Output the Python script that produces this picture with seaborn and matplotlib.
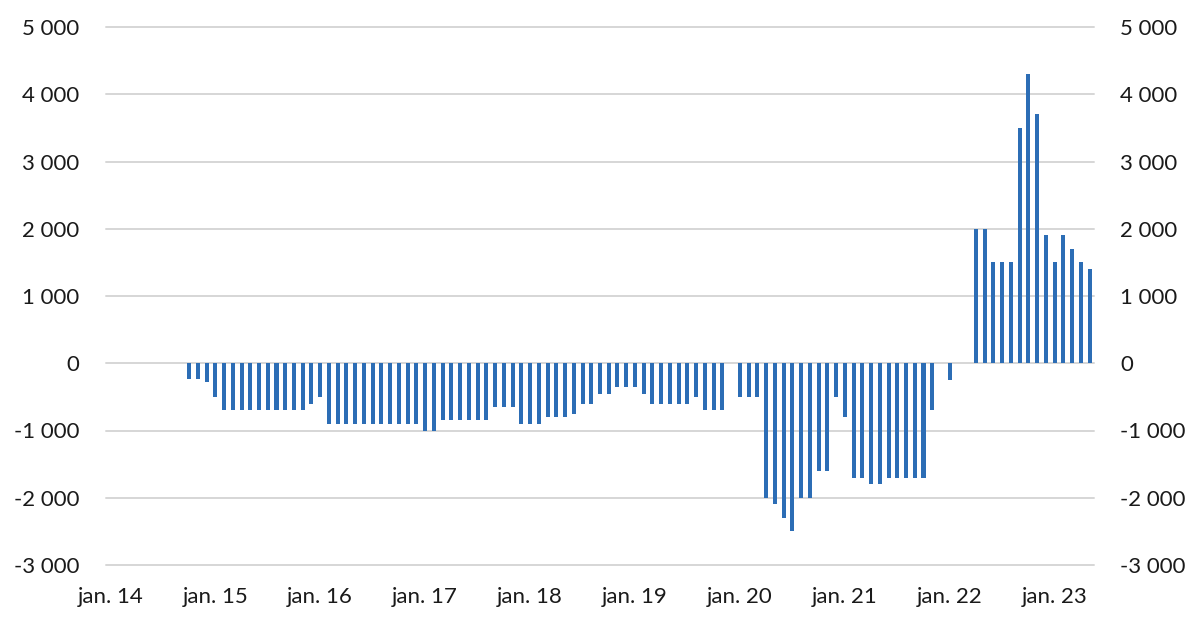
import numpy as np
import pandas as pd
import matplotlib
matplotlib.use("Agg")
import matplotlib.pyplot as plt
import seaborn as sns

# monthly values, jan 2014 .. may 2023
values = [
    0, 0, 0, 0, 0, 0, 0, 0, 0,                     # jan-sep 14
    -230, -230, -280,                               # oct-dec 14
    -500, -700, -700, -700, -700, -700, -700, -700, -700, -700, -700, -600,   # 2015
    -500, -900, -900, -900, -900, -900, -900, -900, -900, -900, -900, -900,   # 2016
    -1000, -1000, -850, -850, -850, -850, -850, -850, -650, -650, -650, -900,  # 2017
    -900, -900, -800, -800, -800, -750, -600, -600, -450, -450, -350, -350,    # 2018
    -350, -450, -600, -600, -600, -600, -600, -500, -700, -700, -700, 0,       # 2019
    -500, -500, -500, -2000, -2100, -2300, -2500, -2000, -2000, -1600, -1600, -500,  # 2020
    -800, -1700, -1700, -1800, -1800, -1700, -1700, -1700, -1700, -1700, -700, 0,    # 2021
    -250, 0, 0, 2000, 2000, 1500, 1500, 1500, 3500, 4300, 3700, 1900,               # 2022
    1500, 1900, 1700, 1500, 1400,                                                   # 2023
]
months = pd.date_range("2014-01-01", periods=len(values), freq="MS").strftime("%Y-%m")

xtick_labels = ["jan. 14", "jan. 15", "jan. 16", "jan. 17", "jan. 18",
                "jan. 19", "jan. 20", "jan. 21", "jan. 22", "jan. 23"]
ytick_values = [-3000, -2000, -1000, 0, 1000, 2000, 3000, 4000, 5000]
ytick_labels = ["-3 000", "-2 000", "-1 000", "0", "1 000", "2 000", "3 000", "4 000", "5 000"]

df = pd.DataFrame({"month": months, "value": values})

sns.set_theme(style="white")
plt.rcParams["font.family"] = ["Lato", "DejaVu Sans"]

fig = plt.figure(figsize=(11.99, 6.23), dpi=100)
ax = fig.add_axes([106 / 1199, 58 / 623, 988 / 1199, 538 / 623])

sns.barplot(data=df, x="month", y="value", color="#2C6DB5", width=0.46,
            saturation=1, ax=ax, zorder=3, linewidth=0)

ax.set_xlim(-0.5, len(values) - 0.5)
ax.set_ylim(-3000, 5000)
ax.set_xticks(range(0, len(values), 12))
ax.set_xticklabels(xtick_labels)
ax.set_yticks(ytick_values)
ax.set_yticklabels(ytick_labels)
ax.set_xlabel("")
ax.set_ylabel("")

ax.grid(axis="y", color="#d6d6d6", linewidth=1.4, zorder=0)
ax.grid(axis="x", visible=False)
for gl in ax.get_ygridlines():
    gl.set_clip_on(False)

ax.tick_params(axis="y", which="both", left=False, right=False, length=0,
               labelleft=True, labelright=True, pad=19,
               labelsize=16, labelcolor="#1a1a1a")
ax.tick_params(axis="x", bottom=False, length=0, pad=16, labelsize=16, labelcolor="#1a1a1a")
for t in ax.yaxis.get_major_ticks():
    t.label1.set_ha("right")
    t.label2.set_ha("left")

sns.despine(ax=ax, left=True, bottom=True, right=True, top=True)

fig.savefig("out.png", dpi=100, facecolor="white")
